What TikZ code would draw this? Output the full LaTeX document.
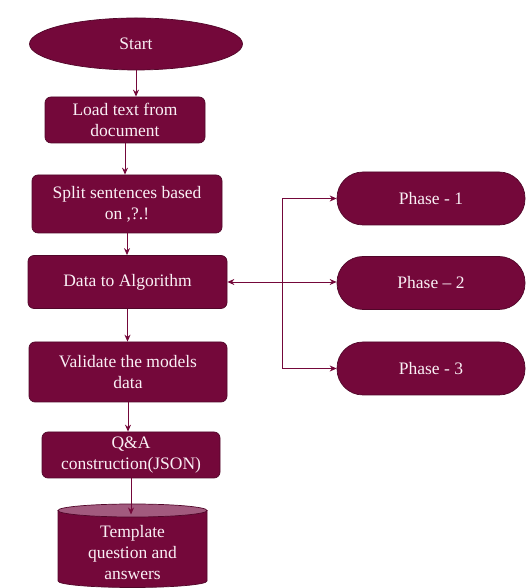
\documentclass[tikz,border=0pt]{standalone}
\usepackage{fontspec}
\setmainfont{Liberation Serif}
\usepackage{tikz}
\usepackage{xcolor}
\usetikzlibrary{shapes.geometric,arrows.meta,calc}
\definecolor{wine}{HTML}{74083A}
\definecolor{winelid}{HTML}{A25A7E}
\definecolor{winetext}{HTML}{FAF0F5}

\begin{document}
\begin{tikzpicture}[x=1pt,y=1pt,
					box/.style 	= {rectangle, rounded corners=6pt, fill=wine, draw=wine!70!black,
								line width=0.7pt, text=winetext, align=center, inner sep=0pt,
								font=\fontsize{17.5}{21}\selectfont},
					pill/.style = {box, rounded corners=26pt, minimum width=188pt, minimum height=53pt},
					link/.style = {draw=wine, line width=0.9pt, -{Stealth[length=7pt,width=6pt]}}]
					%\draw[help lines] (0,0) grid[step=50] (527,588);
					\useasboundingbox (0,0) rectangle (527,588);
					
					\node[box, ellipse, minimum width=213pt, minimum height=52pt] (start) at (136,544) {Start};
					\node[box, minimum width=160pt, minimum height=46pt] (load) at (125,468) {Load text from\\document};
					\node[box, minimum width=190pt, minimum height=58pt] (split) at (127,384) {Split sentences based\\on ,?.!};
					\node[box, minimum width=199pt, minimum height=53pt] (data) at (127.5,306) {Data to Algorithm};
					\node[box, minimum width=198pt, minimum height=60pt] (valid) at (128,216) {Validate the models\\data};
					\node[box, minimum width=178pt, minimum height=46pt] (qa) at (131,133) {Q\&A\\construction(JSON)};
					
					% template store
					\coordinate (lid) at (132.5,77.5);
					\filldraw[fill=wine, draw=wine!70!black, line width=0.7pt]
						(58,77.5) -- (58,7) arc[start angle=180, end angle=360, x radius=74.5, y radius=6.5]
						-- (207,77.5) -- cycle;
					\filldraw[fill=winelid, draw=wine!70!black, line width=0.7pt] (lid) ellipse[x radius=74.5, y radius=6.5];
					\node[box, draw=none, fill=none] (tpl) at (132.5,35) {Template\\question and\\answers};
					
					\node[pill] (p1) at (431,389.5) {Phase - 1};
					\node[pill] (p2) at (431,305) {Phase -- 2};
					\node[pill] (p3) at (431,219.5) {Phase - 3};
					
					\draw[link] (start.south) -- (start.south |- load.north);
					\draw[link] (load.south) -- (load.south |- split.north);
					\draw[link] (split.south) -- (split.south |- data.north);
					\draw[link] (data.south) -- (data.south |- valid.north);
					\draw[link] (valid.south) -- (valid.south |- qa.north);
					\draw[link] (qa.south) -- ([yshift=-4pt]qa.south |- lid);
					
					\coordinate (fork) at ($(data.east)!0.5!(data.east -| p2.west)$);
					\draw[link, {Stealth[length=7pt,width=6pt]}-{Stealth[length=7pt,width=6pt]}] (data.east) -- (data.east -| p2.west);
					\draw[wine, line width=0.9pt] (fork |- p1) -- (fork |- p3);
					\draw[link] (fork |- p1) -- (p1.west);
					\draw[link] (fork |- p3) -- (p3.west);
\end{tikzpicture}
\end{document}
